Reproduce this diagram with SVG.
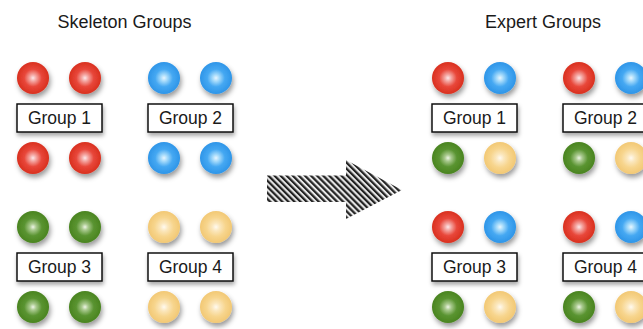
<svg xmlns="http://www.w3.org/2000/svg" width="643" height="329" viewBox="0 0 643 329">
<style>
text{font-family:"Liberation Sans",Arial,sans-serif;fill:#1a1a1a}
.title{font-size:18px;text-anchor:middle}
.lbl{font-size:17.5px;text-anchor:middle}
.box{fill:#fff;stroke:#111;stroke-width:1.5;filter:url(#sh)}
.ball{filter:url(#bsh)}
.r{fill:url(#gr)}.b{fill:url(#gb)}.g{fill:url(#gg)}.y{fill:url(#gy)}
</style>
<defs>
<filter id="sh" x="-20%" y="-30%" width="140%" height="170%"><feDropShadow dx="1" dy="3" stdDeviation="2" flood-color="#000" flood-opacity="0.35"/></filter>
<filter id="bsh" x="-40%" y="-40%" width="180%" height="190%"><feDropShadow dx="1.5" dy="3.5" stdDeviation="2.5" flood-color="#000" flood-opacity="0.4"/></filter>
<radialGradient id="gr" cx="50%" cy="50%" r="50%"><stop offset="0" stop-color="#fde8ea"/><stop offset="0.2" stop-color="#f4a8a4"/><stop offset="0.55" stop-color="#e8473a"/><stop offset="1" stop-color="#d9301f"/></radialGradient>
<radialGradient id="gb" cx="50%" cy="50%" r="50%"><stop offset="0" stop-color="#e8f6ff"/><stop offset="0.2" stop-color="#a8dcfb"/><stop offset="0.55" stop-color="#45a8f2"/><stop offset="1" stop-color="#2e95e8"/></radialGradient>
<radialGradient id="gg" cx="50%" cy="50%" r="50%"><stop offset="0" stop-color="#eef5e6"/><stop offset="0.2" stop-color="#a9c98e"/><stop offset="0.55" stop-color="#5a9431"/><stop offset="1" stop-color="#4a8420"/></radialGradient>
<radialGradient id="gy" cx="50%" cy="50%" r="50%"><stop offset="0" stop-color="#fffaf0"/><stop offset="0.25" stop-color="#fbe7bd"/><stop offset="0.6" stop-color="#f7d58d"/><stop offset="1" stop-color="#f2c874"/></radialGradient>
<pattern id="hatch" width="4.3" height="4.3" patternUnits="userSpaceOnUse" patternTransform="rotate(-45)"><rect width="4.3" height="4.3" fill="#e8e8e8"/><rect width="2.2" height="4.3" fill="#222"/></pattern>
</defs>

<text class="title" x="124.5" y="28">Skeleton Groups</text>
<text class="title" x="543" y="28">Expert Groups</text>

<g id="connectors">
<polygon points="267,175.5 346,175.5 346,160 402,190 346,219 346,202 267,202" fill="url(#hatch)"/>
</g>

<g id="skeleton-group-1">
<circle class="ball r" cx="33" cy="78" r="16"/><circle class="ball r" cx="85" cy="78" r="16"/>
<rect class="box" x="17" y="104" width="85" height="28"/><text class="lbl" x="59.5" y="124">Group 1</text>
<circle class="ball r" cx="33" cy="158" r="16"/><circle class="ball r" cx="85" cy="158" r="16"/>
</g>
<g id="skeleton-group-2">
<circle class="ball b" cx="164" cy="78" r="16"/><circle class="ball b" cx="216" cy="78" r="16"/>
<rect class="box" x="148" y="104" width="85" height="28"/><text class="lbl" x="190.5" y="124">Group 2</text>
<circle class="ball b" cx="164" cy="158" r="16"/><circle class="ball b" cx="216" cy="158" r="16"/>
</g>
<g id="skeleton-group-3">
<circle class="ball g" cx="33" cy="227" r="16"/><circle class="ball g" cx="85" cy="227" r="16"/>
<rect class="box" x="17" y="253" width="85" height="28"/><text class="lbl" x="59.5" y="273">Group 3</text>
<circle class="ball g" cx="33" cy="307" r="16"/><circle class="ball g" cx="85" cy="307" r="16"/>
</g>
<g id="skeleton-group-4">
<circle class="ball y" cx="164" cy="227" r="16"/><circle class="ball y" cx="216" cy="227" r="16"/>
<rect class="box" x="148" y="253" width="85" height="28"/><text class="lbl" x="190.5" y="273">Group 4</text>
<circle class="ball y" cx="164" cy="307" r="16"/><circle class="ball y" cx="216" cy="307" r="16"/>
</g>

<g id="expert-group-1">
<circle class="ball r" cx="448" cy="78" r="16"/><circle class="ball b" cx="500" cy="78" r="16"/>
<rect class="box" x="432" y="104" width="85" height="28"/><text class="lbl" x="474.5" y="124">Group 1</text>
<circle class="ball g" cx="448" cy="158" r="16"/><circle class="ball y" cx="500" cy="158" r="16"/>
</g>
<g id="expert-group-2">
<circle class="ball r" cx="579" cy="78" r="16"/><circle class="ball b" cx="631" cy="78" r="16"/>
<rect class="box" x="563" y="104" width="85" height="28"/><text class="lbl" x="605.5" y="124">Group 2</text>
<circle class="ball g" cx="579" cy="158" r="16"/><circle class="ball y" cx="631" cy="158" r="16"/>
</g>
<g id="expert-group-3">
<circle class="ball r" cx="448" cy="227" r="16"/><circle class="ball b" cx="500" cy="227" r="16"/>
<rect class="box" x="432" y="253" width="85" height="28"/><text class="lbl" x="474.5" y="273">Group 3</text>
<circle class="ball g" cx="448" cy="307" r="16"/><circle class="ball y" cx="500" cy="307" r="16"/>
</g>
<g id="expert-group-4">
<circle class="ball r" cx="579" cy="227" r="16"/><circle class="ball b" cx="631" cy="227" r="16"/>
<rect class="box" x="563" y="253" width="85" height="28"/><text class="lbl" x="605.5" y="273">Group 4</text>
<circle class="ball g" cx="579" cy="307" r="16"/><circle class="ball y" cx="631" cy="307" r="16"/>
</g>
</svg>
